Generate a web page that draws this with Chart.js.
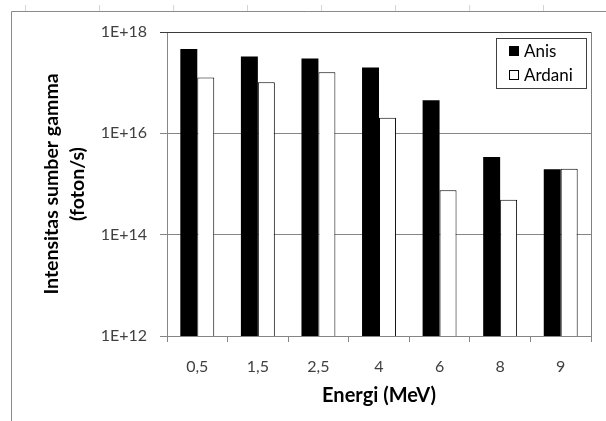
<!DOCTYPE html>
<html>
<head>
<meta charset="utf-8">
<script src="https://cdn.jsdelivr.net/npm/chart.js@4/dist/chart.umd.min.js"></script>
<style>
  html, body { margin: 0; padding: 0; background: #fff; }
  #wrap { width: 606px; height: 421px; position: relative; }
</style>
</head>
<body>
<div id="wrap"><canvas id="c" width="606" height="421"></canvas></div>
<script>
const categories = ['0,5', '1,5', '2,5', '4', '6', '8', '9'];
const anisValues = [4.6e17, 3.3e17, 3.0e17, 2.0e17, 4.5e16, 3.4e15, 1.95e15];
const ardaniValues = [1.27e17, 1.02e17, 1.6e17, 2.03e16, 7.5e14, 4.9e14, 2.0e15];
const yTickValues = [1e12, 1e14, 1e16, 1e18];
const yTickLabels = ['1E+12', '1E+14', '1E+16', '1E+18'];
const seriesNames = ['Anis', 'Ardani'];
const xTitle = 'Energi (MeV)';
const yTitle = ['Intensitas sumber gamma', '(foton/s)'];

const FONT = 'Lato, "Open Sans", "Liberation Sans", sans-serif';

const decor = {
  id: 'decor',
  beforeDraw(chart) {
    const ctx = chart.ctx;
    ctx.save();
    ctx.strokeStyle = '#8a8a8a';
    ctx.lineWidth = 1;
    ctx.beginPath();
    ctx.moveTo(11.5, 421); ctx.lineTo(11.5, 11.5); ctx.lineTo(606, 11.5);
    ctx.stroke();
    ctx.strokeStyle = '#d4d4d4';
    ctx.beginPath();
    for (let x = 25; x < 606; x += 74) {
      ctx.moveTo(x + 0.5, 5); ctx.lineTo(x + 0.5, 11);
    }
    ctx.stroke();
    ctx.restore();
  },
  afterDraw(chart) {
    const ctx = chart.ctx;
    const a = chart.chartArea;
    ctx.save();
    ctx.lineWidth = 1;
    ctx.strokeStyle = '#3a3a3a';
    ctx.beginPath();
    ctx.moveTo(a.left, Math.round(a.top) + 0.5);
    ctx.lineTo(Math.round(a.right) + 0.5, Math.round(a.top) + 0.5);
    ctx.stroke();
    ctx.strokeStyle = '#808080';
    ctx.beginPath();
    ctx.moveTo(Math.round(a.right) + 0.5, Math.round(a.top) + 0.5);
    ctx.lineTo(Math.round(a.right) + 0.5, a.bottom);
    ctx.stroke();

    const bx = Math.round(a.right) - 95, by = Math.round(a.top) + 6;
    const bw = 90, bh = 50;
    ctx.fillStyle = '#fff';
    ctx.fillRect(bx, by, bw, bh);
    ctx.strokeStyle = '#404040';
    ctx.strokeRect(bx + 0.5, by + 0.5, bw, bh);
    ctx.font = '17px ' + FONT;
    ctx.textBaseline = 'middle';
    ctx.textAlign = 'left';
    chart.data.datasets.forEach((ds, i) => {
      const cy = by + 13 + i * 24;
      ctx.fillStyle = ds.backgroundColor;
      ctx.fillRect(bx + 13, cy - 5, 10, 10);
      ctx.strokeStyle = '#000';
      ctx.strokeRect(bx + 13.5, cy - 4.5, 9, 9);
      ctx.fillStyle = '#000';
      ctx.fillText(ds.label, bx + 28, cy + 1);
    });
    ctx.restore();
  }
};

new Chart(document.getElementById('c'), {
  type: 'bar',
  data: {
    labels: categories,
    datasets: [
      { label: seriesNames[0], data: anisValues, backgroundColor: '#000000', borderColor: '#000000', borderWidth: 0 },
      { label: seriesNames[1], data: ardaniValues, backgroundColor: '#ffffff', borderColor: '#000000', borderWidth: 1 }
    ]
  },
  options: {
    responsive: false,
    animation: false,
    devicePixelRatio: 1,
    layout: { padding: { left: 0, right: 15, top: 32, bottom: 0 } },
    datasets: { bar: { categoryPercentage: 0.56, barPercentage: 1.0 } },
    plugins: { legend: { display: false }, tooltip: { enabled: false } },
    scales: {
      x: {
        afterFit(s) { s.height = 85; },
        grid: { offset: true, drawOnChartArea: false, drawTicks: true, tickLength: 6, color: '#868686' },
        border: { color: '#868686' },
        ticks: { color: '#404040', font: { family: FONT, size: 16 }, padding: 15 },
        title: { display: true, text: xTitle, color: '#000', font: { family: FONT, size: 20, weight: 'bold' }, padding: { top: 0, bottom: 13 } }
      },
      y: {
        type: 'logarithmic',
        min: 1e12,
        max: 1e18,
        afterFit(s) { s.width = 167; },
        afterBuildTicks(s) { s.ticks = yTickValues.map(v => ({ value: v })); },
        grid: {
          drawTicks: true, tickLength: 7,
          color: (c) => (c.tick && c.tick.value === 1e18) ? '#3a3a3a' : '#868686'
        },
        border: { color: '#868686' },
        ticks: {
          color: '#404040', font: { family: FONT, size: 16 }, padding: 13,
          callback: (v) => { const i = yTickValues.indexOf(v); return i >= 0 ? yTickLabels[i] : ''; }
        },
        title: { display: true, text: yTitle, color: '#000', font: { family: FONT, size: 19.5, weight: 'bold', lineHeight: 1.33 }, padding: { top: 39, bottom: 0 } }
      }
    }
  },
  plugins: [decor]
});
</script>
</body>
</html>
